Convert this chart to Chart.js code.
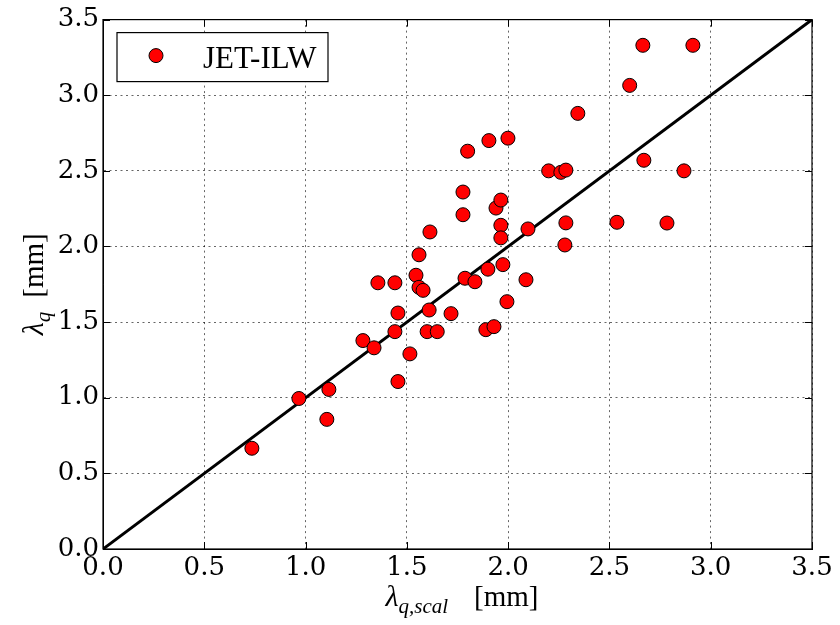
<!DOCTYPE html>
<html>
<head>
<meta charset="utf-8">
<script src="https://cdn.jsdelivr.net/npm/chart.js@4.4.1/dist/chart.umd.min.js"></script>
<style>
  html, body { margin: 0; padding: 0; background: #fff; }
  #wrap { width: 840px; height: 625px; }
</style>
</head>
<body>
<div id="wrap"><canvas id="scatterChart" width="840" height="625"></canvas></div>
<script>
// lambda_q,scal (x) and measured lambda_q (y), mm
const scalVals = [0.735, 0.967, 1.115, 1.105, 1.283, 1.338, 1.357, 1.441, 1.441, 1.456,
                  1.456, 1.515, 1.545, 1.560, 1.560, 1.580, 1.600, 1.610, 1.614, 1.650,
                  1.718, 1.777, 1.777, 1.787, 1.800, 1.836, 1.890, 1.900, 1.905, 1.930,
                  1.940, 1.964, 1.964, 1.964, 1.974, 1.994, 1.999, 2.088, 2.098, 2.200,
                  2.260, 2.285, 2.280, 2.285, 2.344, 2.537, 2.600, 2.665, 2.670, 2.784,
                  2.868, 2.912];
const lambdaVals = [0.666, 0.995, 1.055, 0.857, 1.378, 1.330, 1.760, 1.760, 1.437, 1.560,
                    1.107, 1.290, 1.810, 1.945, 1.730, 1.710, 1.437, 1.580, 2.096, 1.437,
                    1.556, 2.210, 2.360, 1.790, 2.630, 1.767, 1.450, 1.850, 2.700, 1.470,
                    2.254, 2.307, 2.140, 2.057, 1.880, 1.635, 2.716, 1.780, 2.116, 2.500,
                    2.490, 2.505, 2.010, 2.156, 2.880, 2.160, 3.065, 3.330, 2.570, 2.155,
                    2.500, 3.330];
// y = x reference line
const lineX = [0, 3.5];
const lineY = [0, 3.5];
const tickLabels = ['0.0', '0.5', '1.0', '1.5', '2.0', '2.5', '3.0', '3.5'];
const seriesName = 'JET-ILW';

const serif = '"Liberation Serif", "DejaVu Serif", serif';
const tickFont = { family: '"DejaVu Serif", serif', size: 26 };

// draw a label made of pieces (main text, subscript, units) along the current x axis
function drawPieces(ctx, pieces, cx, baseY) {
    let total = 0;
    pieces.forEach(p => {
        ctx.font = p.font;
        p.w = ctx.measureText(p.t).width;
        total += p.w + (p.gap || 0);
    });
    let x = cx - total / 2;
    pieces.forEach(p => {
        x += p.gap || 0;
        ctx.font = p.font;
        ctx.fillText(p.t, x, baseY + (p.dy || 0));
        x += p.w;
    });
}

const framePlugin = {
    id: 'framePlugin',
    afterDraw(chart) {
        const ctx = chart.ctx;
        const a = chart.chartArea;
        const xs = chart.scales.x;
        const ys = chart.scales.y;
        ctx.save();

        // inward ticks on all four sides
        ctx.strokeStyle = '#000';
        ctx.lineWidth = 1;
        ctx.beginPath();
        xs.ticks.forEach(t => {
            const px = Math.round(xs.getPixelForValue(t.value)) + 0.5;
            ctx.moveTo(px, a.bottom); ctx.lineTo(px, a.bottom - 7);
            ctx.moveTo(px, a.top); ctx.lineTo(px, a.top + 7);
        });
        ys.ticks.forEach(t => {
            const py = Math.round(ys.getPixelForValue(t.value)) + 0.5;
            ctx.moveTo(a.left, py); ctx.lineTo(a.left + 7, py);
            ctx.moveTo(a.right, py); ctx.lineTo(a.right - 7, py);
        });
        ctx.stroke();

        // frame
        ctx.lineWidth = 1.2;
        ctx.strokeRect(a.left, a.top, a.right - a.left, a.bottom - a.top);

        // legend box
        const lx = a.left + 14, ly = a.top + 13;
        ctx.fillStyle = '#fff';
        ctx.fillRect(lx, ly, 211, 49);
        ctx.lineWidth = 1.2;
        ctx.strokeRect(lx, ly, 211, 49);
        ctx.beginPath();
        ctx.arc(lx + 39, ly + 23, 7, 0, Math.PI * 2);
        ctx.fillStyle = '#ff0000';
        ctx.fill();
        ctx.lineWidth = 1;
        ctx.stroke();
        ctx.fillStyle = '#000';
        ctx.font = '31px ' + serif;
        ctx.textBaseline = 'alphabetic';
        ctx.textAlign = 'left';
        ctx.fillText(chart.data.datasets[0].label, lx + 86, ly + 35);

        // axis titles
        drawPieces(ctx, [
            { t: 'λ', font: 'italic 30px ' + serif },
            { t: 'q,scal', font: 'italic 21px ' + serif, dy: 7 },
            { t: '[mm]', font: '29px ' + serif, gap: 26 }
        ], 462, 606);

        ctx.translate(43, (a.top + a.bottom) / 2);
        ctx.rotate(-Math.PI / 2);
        drawPieces(ctx, [
            { t: 'λ', font: 'italic 30px ' + serif },
            { t: 'q', font: 'italic 21px ' + serif, dy: 7 },
            { t: '[mm]', font: '29px ' + serif, gap: 14 }
        ], 0, 0);

        ctx.restore();
    }
};

function axisOptions(fixSize) {
    return {
        type: 'linear',
        min: 0,
        max: 3.5,
        afterBuildTicks: scale => {
            scale.ticks = tickLabels.map(l => ({ value: parseFloat(l) }));
        },
        afterFit: fixSize,
        ticks: {
            callback: (v, i) => tickLabels[i],
            font: tickFont,
            color: '#000',
            padding: 4,
            autoSkip: false,
            maxRotation: 0
        },
        grid: {
            color: 'rgba(0,0,0,0.6)',
            lineWidth: 1,
            drawTicks: false
        },
        border: { display: true, color: '#000', dash: [2, 3.5] }
    };
}

const points = scalVals.map((x, i) => ({ x: x, y: lambdaVals[i] }));
const linePts = lineX.map((x, i) => ({ x: x, y: lineY[i] }));

new Chart(document.getElementById('scatterChart').getContext('2d'), {
    type: 'scatter',
    data: {
        datasets: [{
            label: seriesName,
            data: points,
            backgroundColor: '#ff0000',
            borderColor: '#000',
            borderWidth: 1,
            pointRadius: 7,
            order: 0
        }, {
            type: 'line',
            label: 'y = x',
            data: linePts,
            borderColor: '#000',
            borderWidth: 3,
            pointRadius: 0,
            fill: false,
            order: 1
        }]
    },
    options: {
        responsive: false,
        animation: false,
        devicePixelRatio: 1,
        layout: { padding: { top: 18, right: 28, left: 0, bottom: 0 } },
        plugins: {
            legend: { display: false },
            tooltip: { enabled: false }
        },
        scales: {
            x: axisOptions(scale => { scale.height = 76; }),
            y: axisOptions(scale => { scale.width = 103; })
        }
    },
    plugins: [framePlugin]
});
</script>
</body>
</html>
